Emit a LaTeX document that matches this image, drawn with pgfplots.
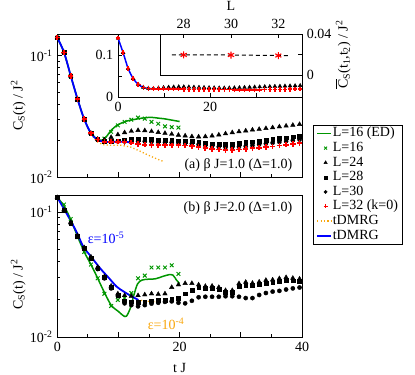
\documentclass[border=0pt]{standalone}
\usepackage{fontspec}
\setmainfont{Liberation Serif}
\usepackage{amsmath}
\usepackage{pgfplots}
\usepackage{pgfplotstable}
\pgfplotsset{compat=1.18}
\colorlet{ggreen}{green!59!black}
\colorlet{gorange}{yellow!65!red}

% beta J = 1.0 : L=24, 28, 30, 32
\pgfplotstableread{
t     L24    L28    L30    L32
0.0   0.140  0.140  0.140  0.140
1.1   0.106  0.106  0.106  0.106
2.2   0.068  0.068  0.068  0.068
3.3   0.044  0.044  0.044  0.044
4.4   0.030  0.030  0.030  0.030
5.5   0.0230 0.0230 0.0230 0.0230
6.6   0.0206 0.0205 0.0205 0.0204
7.7   0.0203 0.0198 0.0197 0.0196
8.8   0.0213 0.0199 0.0197 0.0196
9.9   0.0224 0.0200 0.0197 0.0196
11.0  0.0233 0.0202 0.0197 0.0195
12.1  0.0239 0.0205 0.0198 0.0192
13.2  0.0243 0.0207 0.0198 0.0188
14.3  0.0242 0.0206 0.0197 0.0185
15.4  0.0238 0.0204 0.0196 0.0184
16.5  0.0234 0.0203 0.0195 0.0183
17.6  0.0230 0.0202 0.0194 0.0183
18.7  0.0226 0.0201 0.0193 0.0183
19.8  0.0222 0.0200 0.0192 0.0183
20.9  0.0219 0.0199 0.0191 0.0182
22.0  0.0216 0.0197 0.0189 0.0180
23.1  0.0215 0.0194 0.0186 0.0177
24.2  0.0216 0.0191 0.0183 0.0174
25.3  0.0219 0.0189 0.0180 0.0171
26.4  0.0223 0.0187 0.0178 0.0169
27.5  0.0228 0.0187 0.0177 0.0168
28.6  0.0233 0.0188 0.0177 0.0168
29.7  0.0237 0.0190 0.0178 0.0169
30.8  0.0241 0.0193 0.0180 0.0171
31.9  0.0245 0.0196 0.0183 0.0173
33.0  0.0248 0.0199 0.0186 0.0175
34.1  0.0252 0.0202 0.0189 0.0177
35.2  0.0256 0.0205 0.0192 0.0179
36.3  0.0260 0.0208 0.0195 0.0182
37.4  0.0264 0.0211 0.0198 0.0185
38.5  0.0268 0.0215 0.0201 0.0188
39.6  0.0272 0.0219 0.0204 0.0191
}\toptab

% beta J = 2.0 : L=24, 28, 30
\pgfplotstableread{
t     L24    L28    L30
0.0   0.131  0.131  0.131
1.1   0.104  0.103  0.1025
2.2   0.083  0.082  0.081
3.3   0.065  0.064  0.0635
4.4   0.052  0.0515 0.051
5.5   0.0438 0.0430 0.0426
6.6   0.0362 0.0355 0.0350
7.7   0.0305 0.0300 0.0295
8.8   0.0256 0.0250 0.0245
9.9   0.0222 0.0217 0.0213
11.0  0.0215 0.0195 0.0186
12.1  0.0212 0.0192 0.0180
13.2  0.0215 0.0190 0.0176
14.3  0.0218 0.0192 0.0180
15.4  0.0222 0.0195 0.0185
16.5  0.0220 0.0196 0.0188
17.6  0.0222 0.0196 0.0191
18.7  0.0250 0.0200 0.0193
19.8  0.0262 0.0205 0.0188
20.9  0.0269 0.0222 0.0186
22.0  0.0269 0.0238 0.0195
23.1  0.0262 0.0248 0.0208
24.2  0.0255 0.0245 0.0210
25.3  0.0256 0.0245 0.0210
26.4  0.0250 0.0240 0.0210
27.5  0.0236 0.0228 0.0212
28.6  0.0236 0.0228 0.0212
29.7  0.0268 0.0255 0.0210
30.8  0.0275 0.0260 0.0205
31.9  0.0270 0.0258 0.0205
33.0  0.0276 0.0263 0.0217
34.1  0.0285 0.0270 0.0225
35.2  0.0287 0.0273 0.0231
36.3  0.0294 0.0280 0.0234
37.4  0.0300 0.0285 0.0240
38.5  0.0296 0.0282 0.0245
39.6  0.0292 0.0279 0.0249
}\bottab

\begin{document}
\fontsize{14bp}{16bp}\selectfont
\begin{tikzpicture}
\path[use as bounding box] (0,0) rectangle (415bp,375bp);

% ---- panel (a) ----
\begin{axis}[at={(57.3bp,197.7bp)}, anchor=south west,
  scale only axis, width=244.7bp, height=143.3bp,
  xmin=0, xmax=40, ymode=log, ymin=0.01, ymax=0.15,
  xtick={0,10,20,30,40}, minor x tick num=1, xticklabels={},
  ytick={0.01,0.1},
  yticklabels={10\textsuperscript{-2},10\textsuperscript{-1}},
  minor ytick={0.02,0.03,0.04,0.05,0.06,0.07,0.08,0.09},
  tick align=inside, xtick pos=left, ytick pos=left,
  major tick length=5bp, minor tick length=3bp,
  axis line style={line width=0.8bp},
  tick style={black, line width=0.8bp},
  clip=false,
  ylabel={C\textsubscript{S}(t) / J\textsuperscript{2}},
  ylabel style={at={(axis description cs:-0.16,0.5)}, anchor=center},
  legend style={at={(axis description cs:1.045,0.365)}, anchor=north west,
    draw=black, fill=white, inner xsep=3bp, inner ysep=1bp,
    nodes={text height=10bp, text depth=3bp, inner sep=0.8bp}},
  legend cell align=left]
\addplot[color=gorange, dash pattern=on 1.2bp off 2.2bp, line width=1.3bp, forget plot] coordinates {
  (0,0.140) (1.1,0.106) (2.2,0.068) (3.3,0.044) (4.4,0.030) (5.5,0.0226)
  (6.5,0.0196) (7.5,0.0185) (9,0.0183) (10.5,0.0183) (12,0.0177)
  (13.5,0.0164) (15,0.0151) (16.5,0.0140) (17.2,0.0136)};
\addplot[color=ggreen, line width=1.5bp, smooth, forget plot] coordinates {
  (0,0.140) (1.1,0.106) (2.2,0.068) (3.3,0.044) (4.4,0.030) (5.5,0.023)
  (6.6,0.0205) (7.4,0.0202) (8.1,0.0218) (8.8,0.0243) (9.7,0.0266)
  (10.5,0.0279) (11.3,0.0289) (12.4,0.0297) (13.5,0.0304) (14.5,0.0309)
  (15.5,0.0310) (16.5,0.0306) (17.5,0.0302) (18.5,0.0296) (19.5,0.0290) (20,0.0287)};
\addplot[color=ggreen, only marks, mark=x, mark size=2.6bp, line width=1bp, forget plot] coordinates {
  (0,0.140) (1.1,0.106) (2.2,0.068) (3.3,0.044) (4.4,0.030) (5.5,0.023)
  (6.6,0.0205) (7.7,0.0208) (8.8,0.0236) (9.9,0.0267) (11.0,0.0285)
  (12.1,0.0297) (13.2,0.0309) (14.3,0.0303) (15.4,0.0285) (16.5,0.0275)
  (17.6,0.0262) (18.7,0.0258) (19.8,0.0256)};
\addplot[black, only marks, mark=triangle*, mark size=2.6bp, forget plot] table[x=t, y=L24] {\toptab};
\addplot[black, only marks, mark=square*, mark size=1.9bp, forget plot] table[x=t, y=L28] {\toptab};
\addplot[black, only marks, mark=*, mark size=2.1bp, forget plot] table[x=t, y=L30] {\toptab};
\addplot[red, only marks, mark=+, mark size=2.7bp, line width=1.7bp, forget plot] table[x=t, y=L32] {\toptab};
\addplot[blue, line width=1.8bp, smooth, forget plot] coordinates {
  (0,0.140) (1.1,0.106) (2.2,0.068) (3.3,0.044) (4.4,0.030) (5.5,0.0230)
  (6.6,0.0203) (7.7,0.0196) (8.8,0.0195) (9.9,0.0196) (11,0.0195) (12,0.0194)};

\addlegendimage{legend image code/.code={\fill[fill=green!59!black, draw=none] (0bp,-0.75bp) rectangle (14bp,0.75bp);}}
\addlegendentry{L=16 (ED)}
\addlegendimage{color=ggreen, only marks, mark=x, mark size=2bp, line width=0.8bp}\addlegendentry{L=16}
\addlegendimage{color=black, only marks, mark=triangle*, mark size=2bp}\addlegendentry{L=24}
\addlegendimage{color=black, only marks, mark=square*, mark size=1.5bp}\addlegendentry{L=28}
\addlegendimage{color=black, only marks, mark=*, mark size=1.7bp}\addlegendentry{L=30}
\addlegendimage{color=red, only marks, mark=+, mark size=2bp, line width=1.3bp}\addlegendentry{L=32 (k=0)}
\addlegendimage{legend image code/.code={\draw[yellow!65!red, dash pattern=on 1.2bp off 2.2bp, line width=1.3bp] (0bp,0bp) -- (14bp,0bp);}}
\addlegendentry{tDMRG}
\addlegendimage{legend image code/.code={\draw[blue, line width=1.8bp] (0bp,0bp) -- (14bp,0bp);}}
\addlegendentry{tDMRG}

\node[anchor=east] at (axis cs:39.2,0.0126) {(a) β J=1.0 (Δ=1.0)};
\end{axis}

% ---- inset ----
\begin{axis}[at={(118bp,278bp)}, anchor=south west, scale only axis,
  width=184bp, height=63bp, xmin=0, xmax=40, ymin=0, ymax=0.15,
  xtick={0,10,20,30,40}, xticklabels={0,,20,,},
  ytick={0,0.05,0.1}, yticklabels={0,,0.1}, scaled y ticks=false,
  tick align=inside, xtick pos=left, ytick pos=left,
  major tick length=4bp,
  axis line style={line width=0.8bp},
  tick style={black, line width=0.8bp},
  axis background/.style={fill=white}, clip=false]
\addplot[black, only marks, mark=triangle*, mark size=2.2bp] table[x=t, y=L24] {\toptab};
\addplot[red, only marks, mark=+, mark size=2.3bp, line width=1.5bp] table[x=t, y=L32] {\toptab};
\addplot[blue, line width=1.5bp, smooth] coordinates {
  (0,0.140) (1.1,0.106) (2.2,0.068) (3.3,0.044) (4.4,0.030) (5.5,0.0230)
  (6.6,0.0203) (7.7,0.0196) (8.8,0.0195) (9.9,0.0196) (11,0.0195) (12,0.0194)};
\end{axis}

% ---- inner box: long-time average vs L ----
\begin{axis}[at={(160bp,300bp)}, anchor=south west, scale only axis,
  width=142bp, height=41bp, xmin=27, xmax=33, ymin=0, ymax=0.04,
  xtick={28,30,32}, xticklabels={28,30,32},
  ytick={0,0.02,0.04}, yticklabels={0,,0.04}, scaled y ticks=false,
  xtick pos=right, xticklabel pos=right, ytick pos=right, yticklabel pos=right,
  tick align=inside, major tick length=4bp,
  axis line style={line width=0.8bp},
  tick style={black, line width=0.8bp},
  xlabel={L},
  ylabel={$\overline{\text{C}}$\textsubscript{S}(t\textsubscript{1},t\textsubscript{2}) / J\textsuperscript{2}},
  ylabel style={at={(axis description cs:1.289,0.5)}, anchor=center},
  axis background/.style={fill=white}, clip=false]
\addplot[black, dash pattern=on 4bp off 3bp, line width=1bp] coordinates {
  (27.5,0.0196) (28,0.0196) (30,0.0195) (32,0.0190) (32.4,0.0189)};
\addplot[red, only marks, mark=asterisk, mark size=3.5bp, line width=1.1bp] coordinates {
  (28,0.0196) (30,0.0195) (32,0.0190)};
\end{axis}

% ---- panel (b) ----
\begin{axis}[at={(57.3bp,38bp)}, anchor=south west,
  scale only axis, width=244.7bp, height=142bp,
  xmin=0, xmax=40, ymode=log, ymin=0.01, ymax=0.137,
  xtick={0,10,20,30,40}, minor x tick num=1, xticklabels={0,,20,,40},
  ytick={0.01,0.1},
  yticklabels={10\textsuperscript{-2},10\textsuperscript{-1}},
  minor ytick={0.02,0.03,0.04,0.05,0.06,0.07,0.08,0.09},
  tick align=inside, xtick pos=left, ytick pos=left,
  major tick length=5bp, minor tick length=3bp,
  axis line style={line width=0.8bp},
  tick style={black, line width=0.8bp},
  clip=false,
  xlabel={t J},
  xlabel style={at={(axis description cs:0.5,-0.215)}, anchor=center},
  ylabel={C\textsubscript{S}(t) / J\textsuperscript{2}},
  ylabel style={at={(axis description cs:-0.16,0.37)}, anchor=center}]
\addplot[color=gorange, dash pattern=on 1.2bp off 2.2bp, line width=1.3bp] coordinates {
  (0,0.131) (1.1,0.106) (2.2,0.085) (3.3,0.067) (4.25,0.0528) (5.5,0.0441)
  (7.0,0.0355) (8.4,0.0298) (9.7,0.0253) (10.8,0.0232) (11.9,0.0215)
  (13.25,0.0198) (14.5,0.0194) (16,0.0192)};
\addplot[color=ggreen, line width=1.5bp, smooth] coordinates {
  (0,0.131) (1.1,0.112) (2.2,0.087) (3.3,0.064) (4.4,0.048) (5.5,0.038)
  (6.4,0.031) (7.5,0.0238) (8.8,0.0180) (10.0,0.0160) (10.8,0.0148)
  (11.3,0.0147) (11.9,0.0168) (12.5,0.0215) (13.1,0.0265) (13.8,0.0285)
  (14.8,0.0290) (16.0,0.0292) (17.2,0.0305) (18.2,0.0315) (18.9,0.0313)
  (19.5,0.0285) (20.0,0.0268)};
\addplot[color=ggreen, only marks, mark=x, mark size=2.6bp, line width=1bp] coordinates {
  (0,0.131) (1.1,0.115) (2.2,0.088) (3.3,0.063) (4.4,0.048) (5.5,0.038)
  (6.6,0.0295) (7.7,0.0222) (8.8,0.0177) (9.9,0.0198) (11.0,0.0205)
  (12.1,0.0225) (13.2,0.0295) (14.3,0.0310) (15.4,0.0360) (16.5,0.0360)
  (17.6,0.0360) (18.7,0.0375) (19.8,0.0320)};
\addplot[black, only marks, mark=triangle*, mark size=2.6bp] table[x=t, y=L24] {\bottab};
\addplot[black, only marks, mark=square*, mark size=1.9bp] table[x=t, y=L28] {\bottab};
\addplot[black, only marks, mark=*, mark size=2.1bp] table[x=t, y=L30] {\bottab};
\addplot[blue, line width=1.8bp, smooth] coordinates {
  (0,0.131) (1.1,0.106) (2.2,0.085) (3.3,0.067) (4.25,0.0528) (5.5,0.0441)
  (7.0,0.0355) (8.4,0.0298) (9.7,0.0253) (10.8,0.0232) (11.9,0.0215) (13.25,0.0198)};

\node[anchor=east] at (axis cs:39.2,0.1076) {(b) β J=2.0 (Δ=1.0)};
\node[anchor=west, text=blue] at (axis cs:4.2,0.062) {ε=10\textsuperscript{-5}};
\node[anchor=west, text=gorange] at (axis cs:14.0,0.0128) {ε=10\textsuperscript{-4}};
\end{axis}
\end{tikzpicture}
\end{document}
